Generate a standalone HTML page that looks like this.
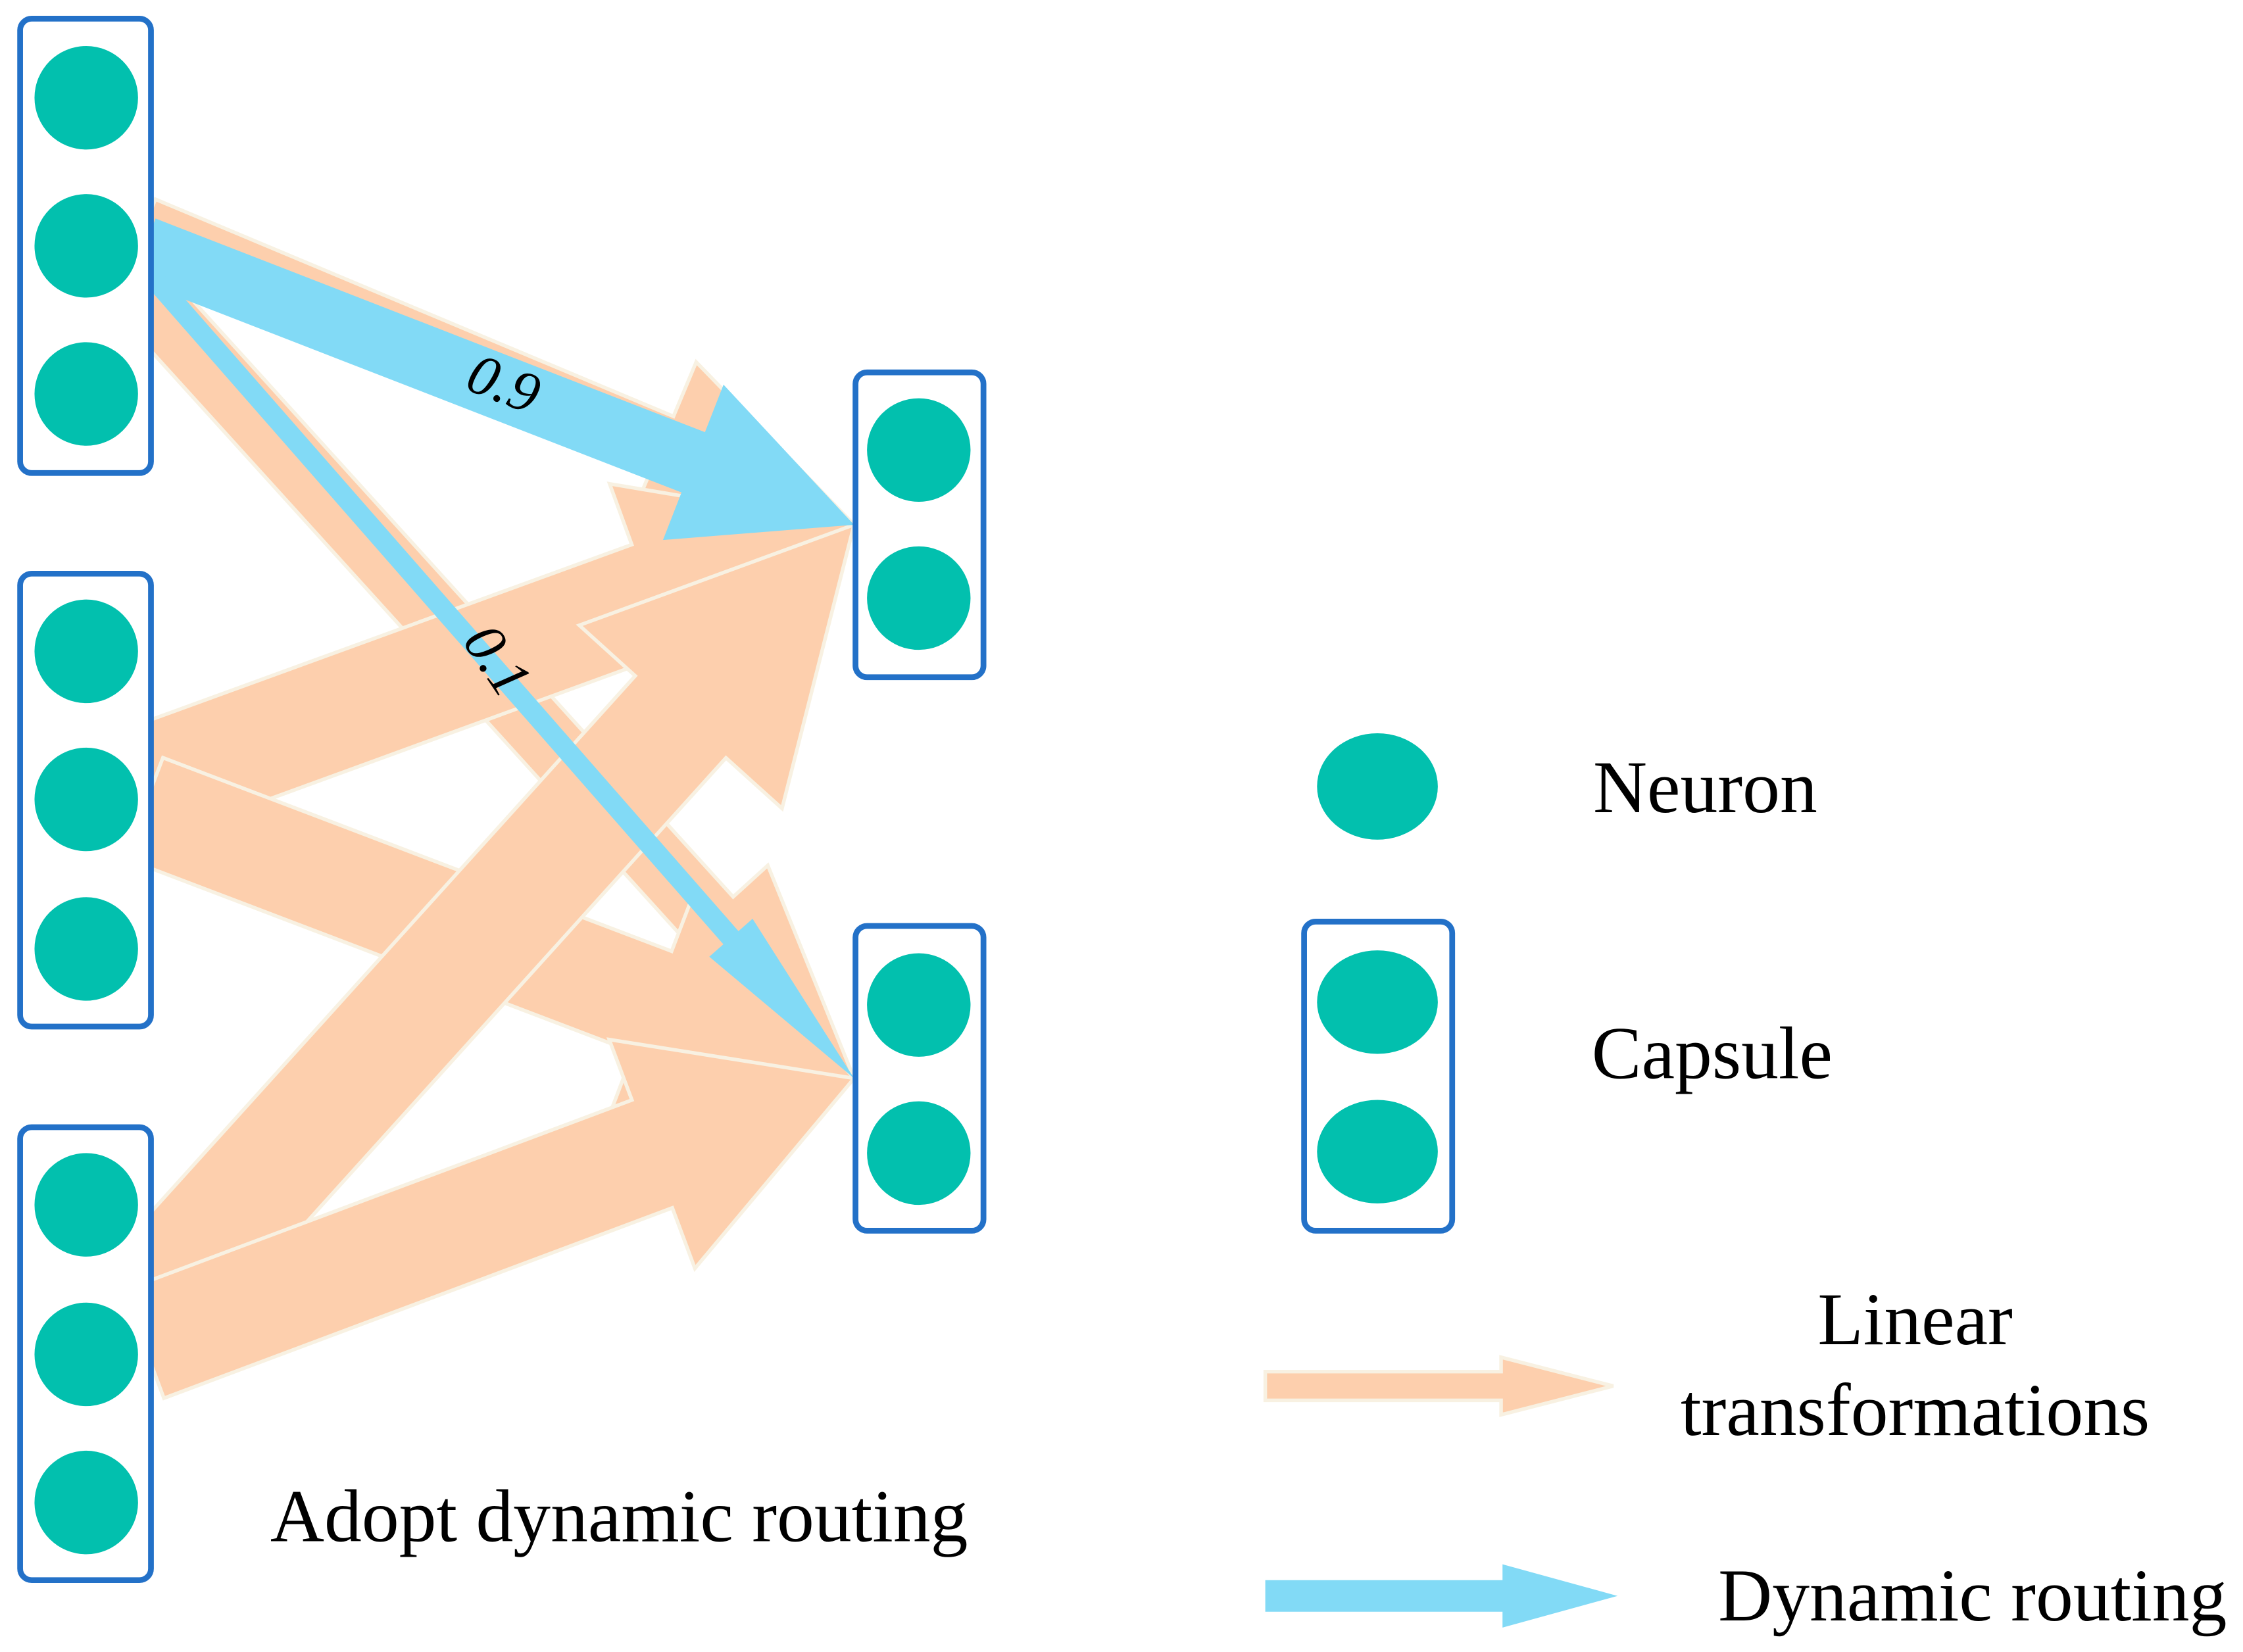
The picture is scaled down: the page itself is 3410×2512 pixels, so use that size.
<!DOCTYPE html>
<html><head><meta charset="utf-8"><style>
html,body{margin:0;padding:0;background:#fff;}
svg{display:block;}
text{font-family:"Liberation Serif",serif;fill:#000;}
</style></head><body>
<svg id="s" width="3410" height="2512" viewBox="0 0 1560 1149" preserveAspectRatio="none" xmlns="http://www.w3.org/2000/svg">
<g id="arrows"></g>
<g fill="#fff" stroke="#2371c8" stroke-width="4">
<rect x="14" y="13" width="91" height="316" rx="8"/>
<rect x="14" y="399" width="91" height="315" rx="8"/>
<rect x="14" y="784" width="91" height="315" rx="8"/>
<rect x="595" y="259" width="89" height="212" rx="8"/>
<rect x="595" y="644" width="89" height="212" rx="8"/>
<rect x="907" y="641" width="103" height="215" rx="8"/>
</g>
<g fill="#02c0ae">
<ellipse cx="60" cy="68" rx="36" ry="36"/><ellipse cx="60" cy="171" rx="36" ry="36"/><ellipse cx="60" cy="274" rx="36" ry="36"/>
<ellipse cx="60" cy="453" rx="36" ry="36"/><ellipse cx="60" cy="556" rx="36" ry="36"/><ellipse cx="60" cy="660" rx="36" ry="36"/>
<ellipse cx="60" cy="838" rx="36" ry="36"/><ellipse cx="60" cy="942" rx="36" ry="36"/><ellipse cx="60" cy="1045" rx="36" ry="36"/>
<ellipse cx="639" cy="313" rx="36" ry="36"/><ellipse cx="639" cy="416" rx="36" ry="36"/>
<ellipse cx="639" cy="699" rx="36" ry="36"/><ellipse cx="639" cy="802" rx="36" ry="36"/>
<ellipse cx="958" cy="547" rx="42" ry="37"/>
<ellipse cx="958" cy="697" rx="42" ry="36"/><ellipse cx="958" cy="801" rx="42" ry="36"/>
</g>
<text x="350" y="280" font-size="40" font-style="italic" text-anchor="middle" transform="rotate(21 350 268)">0.9</text>
<text x="345" y="472" font-size="40" font-style="italic" text-anchor="middle" transform="rotate(56 345 460)">0.1</text>
<text x="1108" y="565" font-size="52">Neuron</text>
<text x="1107" y="750" font-size="52">Capsule</text>
<text x="1332" y="935" font-size="52" text-anchor="middle">Linear</text>
<text x="1332" y="998" font-size="52" text-anchor="middle">transformations</text>
<text x="1195" y="1127" font-size="52">Dynamic routing</text>
<text x="188" y="1072" font-size="52">Adopt dynamic routing</text>
</svg>
<script>
function arrow(sx,sy,tx,ty,w,hw,hl,fill,stroke){
 var dx=tx-sx,dy=ty-sy,L=Math.hypot(dx,dy),ux=dx/L,uy=dy/L,nx=-uy,ny=ux;
 var bx=tx-ux*hl,by=ty-uy*hl;
 var p=[[sx+nx*w/2,sy+ny*w/2],[bx+nx*w/2,by+ny*w/2],[bx+nx*hw,by+ny*hw],[tx,ty],[bx-nx*hw,by-ny*hw],[bx-nx*w/2,by-ny*w/2],[sx-nx*w/2,sy-ny*w/2]];
 var el=document.createElementNS("http://www.w3.org/2000/svg","polygon");
 el.setAttribute("points",p.map(function(q){return q[0].toFixed(1)+","+q[1].toFixed(1)}).join(" "));
 el.setAttribute("fill",fill);
 if(stroke){el.setAttribute("stroke",stroke);el.setAttribute("stroke-width","2.5");}
 document.getElementById("arrows").appendChild(el);
}
var O="#fdcfad",S="#f8f1e2",B="#82daf6";
arrow(100,158,594,365,42,62,145,O,S);
arrow(100,205,594,750,45,55,150,O,S);
arrow(100,545,594,365,80,85,150,O,S);
arrow(100,562,594,750,75,80,150,O,S);
arrow(100,912,594,365,85,95,180,O,S);
arrow(100,935,594,750,80,85,150,O,S);
arrow(100,173,594,365,45,58,120,B,null);
arrow(108,195,594,750,14,20,130,B,null);
arrow(880,964,1122,964,20,20,78,O,S);
arrow(880,1110,1125,1110,22,22,80,B,null);
</script>
</body></html>
